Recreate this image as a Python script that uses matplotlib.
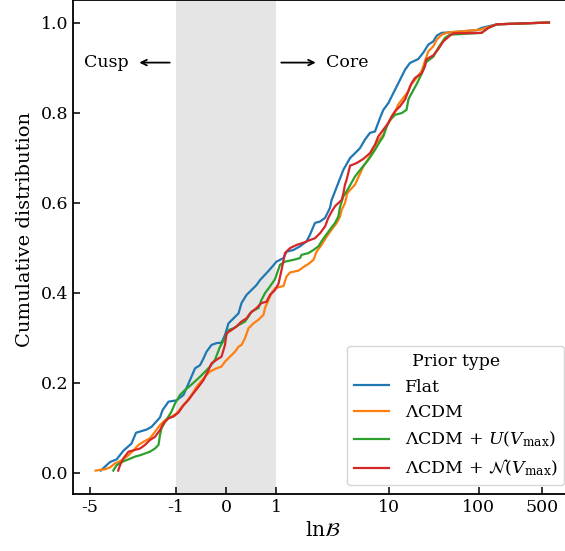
import matplotlib
matplotlib.use("Agg")
import matplotlib.pyplot as plt
import numpy as np

plt.rcParams['font.family'] = ['DejaVu Serif']
plt.rcParams['mathtext.fontset'] = 'dejavuserif'

# ---- data ----
flat_x = [-3.82, -3.01, -2.54, -2.14, -1.89, -1.80, -1.59, -1.49, -1.32, -1.27, -1.15, -0.99, -0.85,
          -0.72, -0.62, -0.52, -0.45, -0.39, -0.29, -0.19, -0.09, -0.02, 0.05, 0.15, 0.25, 0.31, 0.41,
          0.51, 0.61, 0.68, 0.88, 1.01, 1.15, 1.21, 1.35, 1.48, 1.61, 1.68, 1.78, 1.88, 1.98, 2.21,
          2.31, 2.52, 2.74, 3.12, 3.70, 4.02, 4.77, 5.42, 6.16, 7.0, 7.96, 8.67, 9.85, 10.74, 12.2,
          13.3, 15.1, 17.1, 21.2, 24.1, 27.4, 31.1, 34.0, 38.6, 45.7, 94.4, 107, 158, 600]
flat_y = [0.005, 0.024, 0.030, 0.049, 0.065, 0.089, 0.096, 0.102, 0.123, 0.139, 0.158, 0.161, 0.173,
          0.206, 0.232, 0.239, 0.254, 0.269, 0.284, 0.288, 0.289, 0.306, 0.332, 0.343, 0.354, 0.377, 0.395,
          0.406, 0.417, 0.428, 0.452, 0.469, 0.477, 0.491, 0.495, 0.503, 0.514, 0.529, 0.555, 0.558, 0.566, 0.588,
          0.606, 0.625, 0.644, 0.673, 0.699, 0.706, 0.721, 0.740, 0.755, 0.758, 0.788, 0.806, 0.821, 0.836, 0.858,
          0.873, 0.895, 0.910, 0.919, 0.933, 0.951, 0.958, 0.971, 0.977, 0.978, 0.983, 0.988, 0.996, 1.0]

lcdm_x = [-4.35, -3.42, -3.01, -2.65, -2.23, -1.95, -1.85, -1.75, -1.65, -1.52, -1.42, -1.32, -1.22,
          -1.09, -0.99, -0.85, -0.79, -0.69, -0.59, -0.45, -0.32, -0.19, -0.09, -0.02, 0.08, 0.18, 0.25,
          0.31, 0.38, 0.45, 0.55, 0.65, 0.75, 0.78, 0.85, 0.91, 0.98, 1.15, 1.21, 1.28, 1.45, 1.55, 1.65,
          1.75, 1.81, 1.91, 2.04, 2.31, 2.63, 2.86, 2.99, 3.25, 3.45, 3.86, 4.2, 4.57, 5.19, 6.16, 7.31,
          8.67, 9.85, 11.2, 12.7, 14.5, 16.4, 17.1, 19.5, 23.1, 25.2, 27.4, 31.1, 34.0, 38.6, 45.7, 103,
          158, 600]
lcdm_y = [0.005, 0.008, 0.012, 0.021, 0.028, 0.039, 0.050, 0.062, 0.069, 0.077, 0.091, 0.106, 0.117,
          0.125, 0.132, 0.151, 0.158, 0.173, 0.191, 0.210, 0.225, 0.232, 0.236, 0.247, 0.258, 0.269, 0.280,
          0.284, 0.299, 0.321, 0.332, 0.340, 0.351, 0.366, 0.384, 0.399, 0.410, 0.415, 0.436, 0.445, 0.449,
          0.457, 0.464, 0.473, 0.491, 0.506, 0.525, 0.540, 0.555, 0.569, 0.584, 0.599, 0.621, 0.632, 0.640,
          0.656, 0.680, 0.703, 0.732, 0.751, 0.777, 0.792, 0.818, 0.833, 0.847, 0.858, 0.873, 0.892, 0.915,
          0.936, 0.947, 0.962, 0.973, 0.978, 0.984, 0.996, 1.0]

unif_x = [-2.77, -2.54, -2.23, -1.95, -1.82, -1.72, -1.62, -1.52, -1.42, -1.35, -1.32, -1.29, -1.22,
          -1.15, -1.09, -1.02, -0.92, -0.82, -0.72, -0.59, -0.45, -0.32, -0.22, -0.12, -0.02, 0.05, 0.15,
          0.25, 0.38, 0.45, 0.51, 0.65, 0.71, 0.78, 0.88, 0.98, 1.08, 1.18, 1.35, 1.48, 1.51, 1.65, 1.75,
          1.85, 1.91, 1.98, 2.21, 2.52, 2.74, 2.86, 3.12, 3.39, 3.86, 4.2, 4.98, 5.9, 7.0, 7.96, 8.67,
          9.44, 10.3, 11.7, 13.9, 15.7, 16.5, 18.7, 20.2, 23.1, 25.9, 31.1, 35.4, 42.0, 47.7, 107, 127,
          158, 600]
unif_y = [0.005, 0.017, 0.024, 0.030, 0.036, 0.039, 0.043, 0.047, 0.054, 0.062, 0.084, 0.099, 0.113,
          0.125, 0.136, 0.154, 0.173, 0.184, 0.193, 0.206, 0.221, 0.236, 0.251, 0.280, 0.299, 0.317, 0.321,
          0.328, 0.336, 0.347, 0.358, 0.366, 0.384, 0.399, 0.414, 0.430, 0.462, 0.469, 0.473, 0.477, 0.484,
          0.488, 0.495, 0.503, 0.514, 0.525, 0.540, 0.555, 0.569, 0.590, 0.614, 0.625, 0.645, 0.658, 0.677,
          0.695, 0.717, 0.736, 0.747, 0.769, 0.784, 0.795, 0.799, 0.806, 0.830, 0.850, 0.862, 0.886, 0.912,
          0.924, 0.944, 0.966, 0.973, 0.977, 0.988, 0.996, 1.0]

norm_x = [-2.44, -2.33, -2.14, -1.95, -1.85, -1.72, -1.62, -1.52, -1.42, -1.32, -1.25, -1.15, -1.05,
          -0.95, -0.85, -0.75, -0.65, -0.55, -0.45, -0.35, -0.29, -0.19, -0.09, -0.02, 0.01, 0.11, 0.21,
          0.31, 0.41, 0.48, 0.61, 0.71, 0.81, 0.88, 0.98, 1.05, 1.11, 1.18, 1.28, 1.41, 1.55, 1.68, 1.78,
          1.88, 1.98, 2.12, 2.31, 2.52, 2.74, 2.99, 3.12, 3.25, 3.39, 3.70, 4.39, 5.19, 6.16, 7.0, 7.62,
          8.67, 9.85, 10.74, 11.7, 13.3, 15.1, 16.4, 17.9, 19.5, 23.1, 25.2, 25.9, 31.1, 35.4, 40.2, 47.7,
          51.6, 107, 127, 158, 600]
norm_y = [0.005, 0.017, 0.032, 0.047, 0.050, 0.054, 0.062, 0.073, 0.080, 0.095, 0.110, 0.121, 0.125,
          0.134, 0.150, 0.162, 0.177, 0.191, 0.206, 0.228, 0.243, 0.251, 0.258, 0.284, 0.310, 0.317, 0.325,
          0.336, 0.343, 0.354, 0.366, 0.377, 0.380, 0.395, 0.406, 0.420, 0.450, 0.488, 0.499, 0.506, 0.511,
          0.517, 0.521, 0.532, 0.547, 0.566, 0.580, 0.592, 0.599, 0.606, 0.621, 0.640, 0.651, 0.682, 0.688,
          0.697, 0.710, 0.729, 0.747, 0.762, 0.777, 0.792, 0.803, 0.814, 0.829, 0.847, 0.866, 0.877, 0.887,
          0.903, 0.918, 0.927, 0.941, 0.958, 0.971, 0.976, 0.977, 0.988, 0.996, 1.0]

series_labels = ['Flat', r'$\Lambda$CDM', r'$\Lambda$CDM + $U(V_{\rm max})$',
                 r'$\Lambda$CDM + $\mathcal{N}(V_{\rm max})$']
series_colors = ['#1f77b4', '#ff7f0e', '#2ca02c', '#d62728']
xtick_vals = [-5, -1, 0, 1, 10, 100, 500]
xtick_labels = ['-5', '-1', '0', '1', '10', '100', '500']
ytick_vals = [0.0, 0.2, 0.4, 0.6, 0.8, 1.0]

# ---- figure ----
W, H = 565, 551
fig = plt.figure(figsize=(W / 100, H / 100), dpi=100)
ax = fig.add_axes([73 / W, (H - 494) / H, 500 / W, 494 / H])
ax.set_xscale('symlog', linthresh=2, linscale=1)

ax.axvspan(-1, 1, color='#e5e5e5', zorder=0, lw=0)

for xs, ys, lab, col in zip([flat_x, lcdm_x, unif_x, norm_x],
                            [flat_y, lcdm_y, unif_y, norm_y],
                            series_labels, series_colors):
    ax.plot(xs, ys, color=col, lw=1.6, label=lab)

ax.set_xlim(-7.76, 1110)
ax.set_ylim(-0.047, 1.05)
ax.set_xticks(xtick_vals)
ax.set_xticklabels(xtick_labels)
ax.xaxis.set_minor_locator(matplotlib.ticker.NullLocator())
ax.set_yticks(ytick_vals)
ax.set_yticklabels([f'{v:.1f}' for v in ytick_vals])
ax.tick_params(direction='in', labelsize=12.5, length=5, width=1.1)
for s in ax.spines.values():
    s.set_linewidth(1.3)

ax.set_xlabel(r'$\mathrm{ln}\mathcal{B}$', fontsize=14.5, labelpad=4)
ax.set_ylabel('Cumulative distribution', fontsize=14)
ax.yaxis.set_label_coords(-0.078, 0.536)

ax.annotate('', xy=(-1.79, 0.911), xytext=(-1.07, 0.911),
            arrowprops=dict(arrowstyle='->', lw=1.3, color='black'))
ax.annotate('', xy=(1.85, 0.911), xytext=(1.05, 0.911),
            arrowprops=dict(arrowstyle='->', lw=1.3, color='black'))
ax.text(-1.94, 0.911, 'Cusp', ha='right', va='center', fontsize=12.5)
ax.text(2.0, 0.911, 'Core', ha='left', va='center', fontsize=12.5)

leg = ax.legend(title='Prior type', loc='lower right', fontsize=12.5, title_fontsize=12.5,
                handletextpad=0.9)

fig.savefig('out.png', dpi=100)
